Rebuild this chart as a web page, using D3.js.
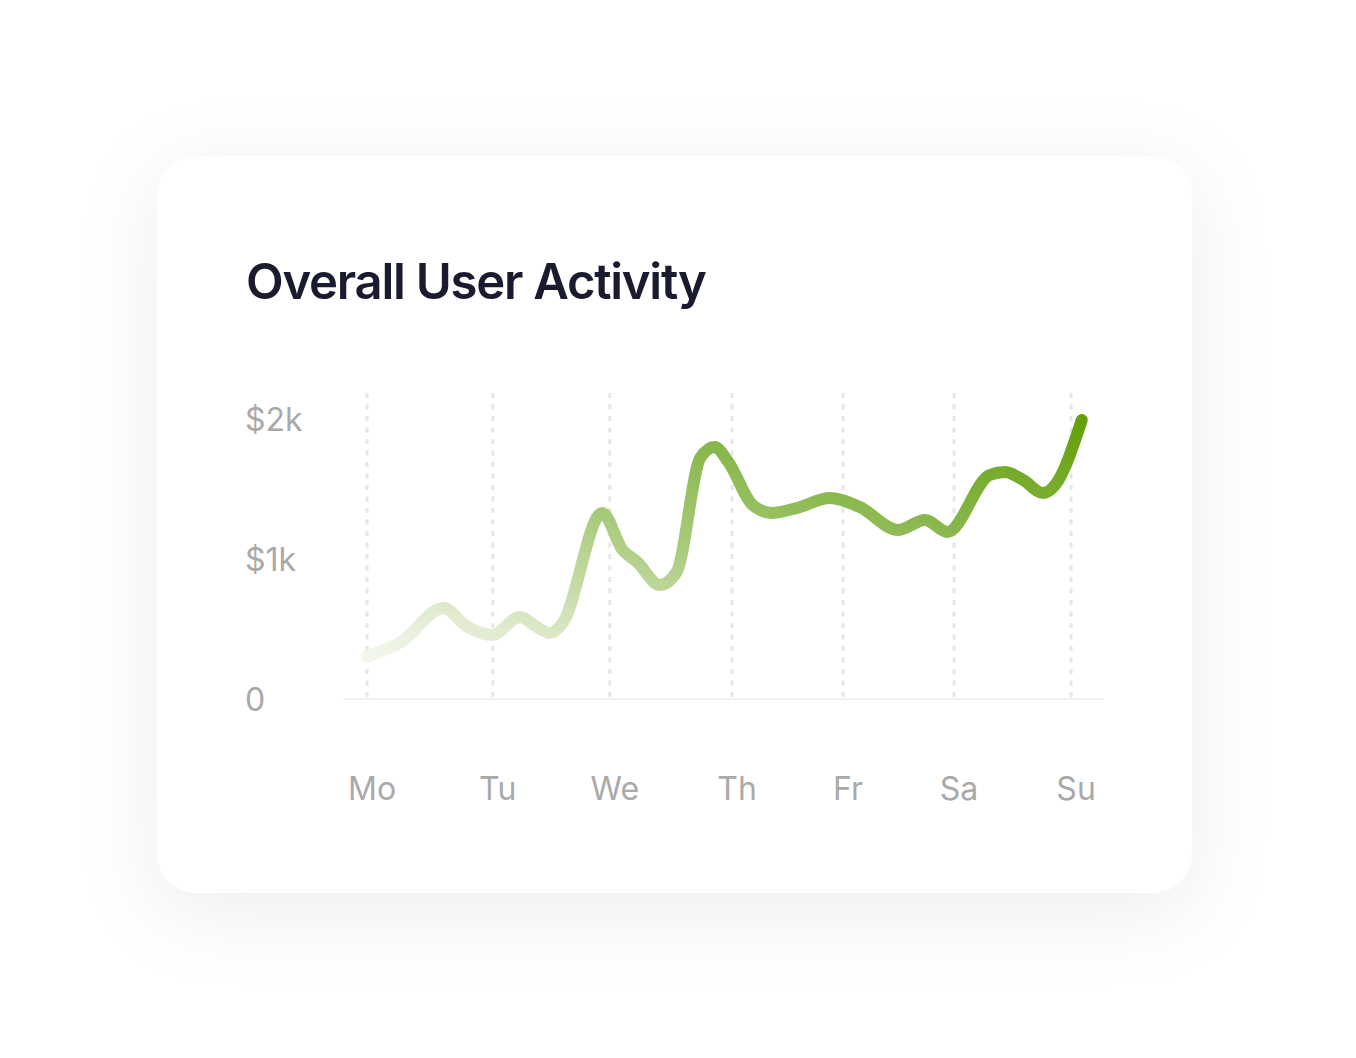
<!DOCTYPE html>
<html>
<head>
<meta charset="utf-8">
<script src="https://cdn.jsdelivr.net/npm/d3@7"></script>
<style>
  html, body { margin: 0; padding: 0; background: #ffffff; }
  svg { display: block; }
</style>
</head>
<body>
<svg id="chart" width="1356" height="1058"></svg>
<script>
// ---- data ----
const title = "Overall User Activity";
const dayLabels = ["Mo", "Tu", "We", "Th", "Fr", "Sa", "Su"];
// positions of the day gridlines along the time axis (0..100)
const dayTicks = [3.16, 19.7, 35.1, 51.2, 65.8, 80.4, 95.8];
const yTickValues = [0, 1000, 2000];
const yTickLabels = ["0", "$1k", "$2k"];
// activity series: time positions and values ($)
const seriesT = [3.1, 7.7, 13.2, 16.4, 19.6, 23.3, 25.5, 27.2, 28.9, 34.1, 36.8, 38.7, 41.7, 43.9, 47.0, 48.9, 50.7, 53.9, 56.4, 59.7, 64.1, 68.0, 73.0, 76.6, 79.5, 85.1, 87.1, 89.5, 92.1, 93.7, 97.2];
const seriesV = [302, 409, 650, 514, 457, 586, 514, 471, 543, 1329, 1064, 979, 814, 907, 1721, 1800, 1693, 1386, 1329, 1364, 1436, 1371, 1207, 1279, 1193, 1600, 1621, 1564, 1471, 1529, 1993];

// ---- drawing ----
const svg = d3.select("#chart");
const defs = svg.append("defs");

const shadow = defs.append("filter").attr("id", "cardShadow")
  .attr("x", "-30%").attr("y", "-30%").attr("width", "160%").attr("height", "160%");
shadow.append("feDropShadow").attr("dx", 0).attr("dy", 18)
  .attr("stdDeviation", 42).attr("flood-color", "#000").attr("flood-opacity", 0.07);

svg.append("rect")
  .attr("x", 157).attr("y", 156).attr("width", 1035).attr("height", 737)
  .attr("rx", 40).attr("ry", 40)
  .attr("fill", "#ffffff").attr("filter", "url(#cardShadow)");

const x = d3.scaleLinear().domain([0, 100]).range([343, 1103]);
const y = d3.scaleLinear().domain([0, 2186]).range([699, 393]);

// title
const titleText = svg.append("text")
  .attr("x", 246).attr("y", 299)
  .attr("font-family", "Inter, sans-serif")
  .attr("font-weight", 600)
  .attr("font-size", 49)
  .attr("fill", "#1b1b2f")
  .text(title);
const tw = titleText.node().getComputedTextLength();
titleText.attr("letter-spacing", ((461 - tw) / (title.length - 1)).toFixed(2));

// vertical dashed gridlines
svg.append("g").selectAll("line").data(dayTicks).join("line")
  .attr("x1", d => x(d)).attr("x2", d => x(d))
  .attr("y1", y(2186)).attr("y2", y(0))
  .attr("stroke", "#e6e6e6").attr("stroke-width", 3)
  .attr("stroke-dasharray", "5 6.5");

// baseline
svg.append("line")
  .attr("x1", x(0)).attr("x2", x(100))
  .attr("y1", y(0)).attr("y2", y(0))
  .attr("stroke", "#ebebeb").attr("stroke-width", 1.5);

// y labels
svg.append("g").selectAll("text").data(yTickValues).join("text")
  .attr("x", 245).attr("y", d => y(d))
  .attr("dy", "0.36em")
  .attr("font-family", "Inter, sans-serif")
  .attr("font-size", 32)
  .attr("fill", "#a9a9a9")
  .text((d, i) => yTickLabels[i]);

// x labels
svg.append("g").selectAll("text").data(dayTicks).join("text")
  .attr("x", (d, i) => x(d) + 5).attr("y", 800)
  .attr("text-anchor", "middle")
  .attr("font-family", "Inter, sans-serif")
  .attr("font-size", 32)
  .attr("fill", "#a9a9a9")
  .text((d, i) => dayLabels[i]);

// gradient line
const pts = seriesT.map((t, i) => [t, seriesV[i]]);
const grad = defs.append("linearGradient").attr("id", "lineGrad")
  .attr("x1", 0).attr("y1", 1).attr("x2", 1).attr("y2", 0);
[[0, "#f3f7ed"], [0.15, "#e0ebcf"], [0.45, "#aacb7c"], [0.7, "#86b548"], [1, "#64a00a"]]
  .forEach(([o, c]) => grad.append("stop").attr("offset", o).attr("stop-color", c));

const line = d3.line().x(d => x(d[0])).y(d => y(d[1])).curve(d3.curveMonotoneX);
svg.append("path")
  .attr("d", line(pts))
  .attr("fill", "none")
  .attr("stroke", "url(#lineGrad)")
  .attr("stroke-width", 12)
  .attr("stroke-linecap", "round")
  .attr("stroke-linejoin", "round");
</script>
</body>
</html>
